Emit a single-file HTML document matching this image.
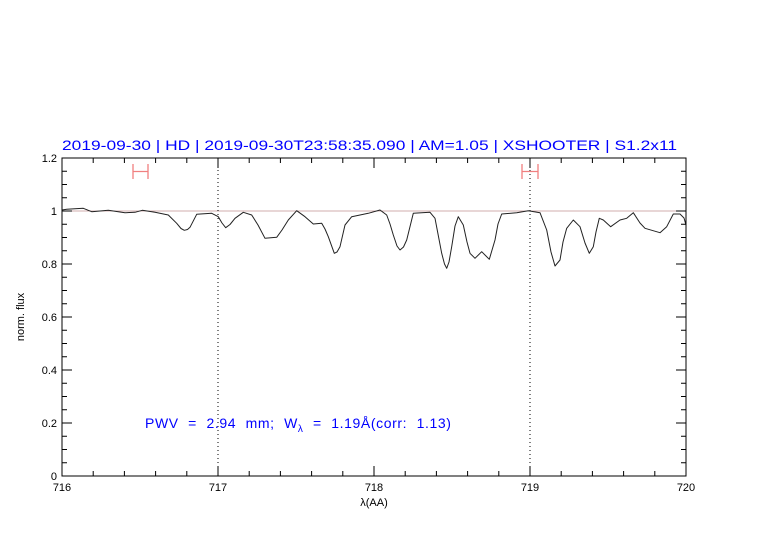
<!DOCTYPE html>
<html><head><meta charset="utf-8"><style>body{margin:0;background:#fff}svg{display:block}</style></head><body>
<svg width="782" height="542" xmlns="http://www.w3.org/2000/svg" font-family="Liberation Sans, sans-serif">
<rect width="782" height="542" fill="#fff"/>
<text x="62" y="150" font-size="14" fill="#0000ff" textLength="615" lengthAdjust="spacingAndGlyphs">2019-09-30 | HD | 2019-09-30T23:58:35.090 | AM=1.05 | XSHOOTER | S1.2x11</text>
<line x1="62" y1="211" x2="686" y2="211" stroke="#c09090" stroke-width="0.8"/>
<g stroke="#000" stroke-dasharray="1,3" stroke-width="1"><line x1="218" y1="158" x2="218" y2="476"/><line x1="530" y1="158" x2="530" y2="476"/></g>
<g stroke="#f08080" stroke-width="1.3" fill="none"><path d="M133 164V179M148 164V179M133 171.5H148"/><path d="M522 164V179M538 164V179M522 171.5H538"/></g>
<polyline fill="none" stroke="#222" stroke-width="1" stroke-linejoin="round" points="62,210 66.7,209.3 83.3,208.3 91.7,211.7 108.3,210.3 125,212.7 135,212.3 142.3,210.3 155,212.3 168.3,215 176.7,223.3 181,228.5 184.3,230.3 187.5,229.5 190,227.3 196.7,214.3 211.7,213.3 218.3,216.7 222,223 225.7,227.7 230,224.5 235,218.3 243.3,212.3 251.7,215 258,225 265,238.3 276.7,237.3 282,230 288.3,220 296.7,210.7 305,216.7 313.3,224 321.7,223.3 325,229 328.3,236.7 334.3,253.3 337,252 340,246.7 345,225 351.7,216.7 368.3,213.3 380,210 386.7,215 390,224 393.3,235 397,246 400,250 403.5,247 406.7,240 413.3,213.3 430,212.3 435,218.3 438,234 441.7,253.3 444.5,264 446.7,268.3 449,262 451.7,246.7 455,226 458.3,216.7 463.3,225 467,242 470,253.3 475,258.3 481.7,251.7 486,256 489.3,259.3 495,240 498,224 501.7,214 516.7,212.7 528.3,210.7 540,212.7 546.7,230 551,252 555,266 560,260 563,242 566.7,228.3 573.3,220 580,226.7 585,243 589.3,253.3 593.3,246.7 596,232 599.3,218.3 603.3,220 610.7,226.7 620,220 626.7,218.3 633.3,212.7 640,223 645,228.3 660,232.7 666.7,226.7 673.3,214 680,214 684,218 686,225"/>
<rect x="62" y="158" width="624" height="318" fill="none" stroke="#000" stroke-width="1"/>
<g stroke="#000" stroke-width="1">
<path d="M62 476v-10M218 476v-10M374 476v-10M530 476v-10M686 476v-10M62 158v10M218 158v10M374 158v10M530 158v10M686 158v10"/>
<path d="M93.2 476v-5M124.4 476v-5M155.6 476v-5M186.8 476v-5M249.2 476v-5M280.4 476v-5M311.6 476v-5M342.8 476v-5M405.2 476v-5M436.4 476v-5M467.6 476v-5M498.8 476v-5M561.2 476v-5M592.4 476v-5M623.6 476v-5M654.8 476v-5"/>
<path d="M93.2 158v5M124.4 158v5M155.6 158v5M186.8 158v5M249.2 158v5M280.4 158v5M311.6 158v5M342.8 158v5M405.2 158v5M436.4 158v5M467.6 158v5M498.8 158v5M561.2 158v5M592.4 158v5M623.6 158v5M654.8 158v5"/>
<path d="M62 476h10M62 423h10M62 370h10M62 317h10M62 264h10M62 211h10M62 158h10M686 476h-10M686 423h-10M686 370h-10M686 317h-10M686 264h-10M686 211h-10M686 158h-10"/>
<path d="M62 462.75h5M62 449.5h5M62 436.25h5M62 409.75h5M62 396.5h5M62 383.25h5M62 356.75h5M62 343.5h5M62 330.25h5M62 303.75h5M62 290.5h5M62 277.25h5M62 250.75h5M62 237.5h5M62 224.25h5M62 197.75h5M62 184.5h5M62 171.25h5"/>
<path d="M686 462.75h-5M686 449.5h-5M686 436.25h-5M686 409.75h-5M686 396.5h-5M686 383.25h-5M686 356.75h-5M686 343.5h-5M686 330.25h-5M686 303.75h-5M686 290.5h-5M686 277.25h-5M686 250.75h-5M686 237.5h-5M686 224.25h-5M686 197.75h-5M686 184.5h-5M686 171.25h-5"/>
</g>
<g font-size="11" fill="#000" text-anchor="end">
<text x="57" y="480">0</text><text x="57" y="427">0.2</text><text x="57" y="374">0.4</text><text x="57" y="321">0.6</text><text x="57" y="268">0.8</text><text x="57" y="215">1</text><text x="57" y="162">1.2</text>
</g>
<g font-size="11" fill="#000" text-anchor="middle">
<text x="62" y="491">716</text><text x="218" y="491">717</text><text x="374" y="491">718</text><text x="530" y="491">719</text><text x="686" y="491">720</text>
<text x="374" y="506">λ(AA)</text>
<text transform="translate(24,317) rotate(-90)">norm. flux</text>
</g>
<text x="145" y="428" font-size="14" fill="#0000ff" word-spacing="5" letter-spacing="0.6">PWV = 2.94 mm; W<tspan font-size="10" dy="4">λ</tspan><tspan dy="-4"> = 1.19Å(corr: 1.13)</tspan></text>
</svg>
</body></html>
